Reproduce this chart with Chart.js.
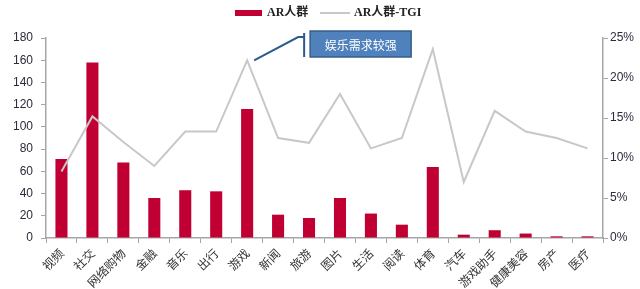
<!DOCTYPE html>
<html>
<head>
<meta charset="utf-8">
<script src="https://cdn.jsdelivr.net/npm/chart.js@4/dist/chart.umd.min.js"></script>
<style>
html,body{margin:0;padding:0;background:#fff;}
#wrap{width:640px;height:289px;position:relative;}
</style>
</head>
<body>
<div id="wrap"><canvas id="c" width="640" height="289"></canvas></div>
<script>
const categories = ['视频','社交','网络购物','金融','音乐','出行','游戏','新闻','旅游','图片','生活','阅读','体育','汽车','游戏助手','健康美容','房产','医疗'];
const arUsers = [71,158,68,36,43,42,116,21,18,36,22,12,64,3,7,4,1.5,1.5];
const arTGI = [8.3,15.2,12.0,9.0,13.3,13.3,22.2,12.5,11.9,18.0,11.2,12.5,23.6,7.0,15.9,13.3,12.5,11.2];
const leftTicks = [0,20,40,60,80,100,120,140,160,180];
const rightTicks = [0,5,10,15,20,25];
const seriesNames = ['AR人群','AR人群-TGI'];
const noteText = '娱乐需求较强';

const tickFont = {family:'"Liberation Sans", Arial, sans-serif', size:12};
const axisColor = '#A6A6A6';
const textColor = '#2B2B3A';

const legendPlugin = {
  id:'customLegend',
  afterDraw(chart){
    const ctx = chart.ctx;
    ctx.save();
    ctx.font = 'bold 12px "Liberation Serif", "Noto Sans CJK SC", serif';
    ctx.textBaseline = 'middle';
    ctx.fillStyle = '#C00032';
    ctx.fillRect(235, 10, 27, 6);
    ctx.fillStyle = '#222';
    ctx.fillText(chart.data.datasets[0].label, 267, 13);
    ctx.strokeStyle = '#C8C8C8';
    ctx.lineWidth = 2;
    ctx.beginPath(); ctx.moveTo(320, 13); ctx.lineTo(350, 13); ctx.stroke();
    ctx.fillStyle = '#222';
    ctx.fillText(chart.data.datasets[1].label, 354, 13);
    ctx.restore();
  }
};

const notePlugin = {
  id:'note',
  afterDatasetsDraw(chart){
    const meta = chart.getDatasetMeta(1);
    const p = meta.data[6];
    const ctx = chart.ctx;
    ctx.save();
    ctx.strokeStyle = '#2C5A8A';
    ctx.lineWidth = 2;
    ctx.beginPath();
    ctx.moveTo(p.x + 7, p.y);
    ctx.lineTo(p.x + 51, 37);
    ctx.lineTo(p.x + 57, 37);
    ctx.stroke();
    ctx.beginPath();
    ctx.moveTo(p.x + 57, 33);
    ctx.lineTo(p.x + 57, 57);
    ctx.stroke();
    const bx = p.x + 63, by = 31, bw = 101, bh = 26;
    ctx.fillStyle = '#4F81BD';
    ctx.fillRect(bx, by, bw, bh);
    ctx.strokeStyle = '#385D8A';
    ctx.lineWidth = 1.5;
    ctx.strokeRect(bx, by, bw, bh);
    ctx.fillStyle = '#FFFFFF';
    ctx.font = '12px "Noto Sans CJK SC", sans-serif';
    ctx.textAlign = 'center';
    ctx.textBaseline = 'middle';
    ctx.fillText(noteText, bx + bw/2, by + bh/2 + 1);
    ctx.restore();
  }
};

new Chart(document.getElementById('c'), {
  data:{
    labels: categories,
    datasets:[
      {type:'bar', label:seriesNames[0], data:arUsers, yAxisID:'y', backgroundColor:'#C00032',
       categoryPercentage:1, barPercentage:0.39, order:2},
      {type:'line', label:seriesNames[1], data:arTGI, yAxisID:'y1', borderColor:'#C8C8C8', borderWidth:2,
       pointRadius:0, tension:0, fill:false, order:1}
    ]
  },
  plugins:[legendPlugin, notePlugin],
  options:{
    responsive:false,
    animation:false,
    layout:{padding:{top:38,left:0,right:0,bottom:0}},
    plugins:{legend:{display:false}, tooltip:{enabled:false}},
    scales:{
      x:{
        grid:{display:true, drawOnChartArea:false, color:axisColor, tickLength:5, offset:true},
        border:{color:axisColor, width:1.5},
        ticks:{font:{family:'"Noto Sans CJK SC", sans-serif', size:12}, color:'#333', maxRotation:45, minRotation:45, autoSkip:false, padding:3},
        afterFit(s){ s.height = 51; }
      },
      y:{
        position:'left', min:0, max:180,
        afterBuildTicks(s){ s.ticks = leftTicks.map(v=>({value:v})); },
        grid:{display:true, drawOnChartArea:false, color:axisColor, tickLength:5},
        border:{color:axisColor, width:1.5},
        ticks:{font:tickFont, color:textColor, padding:8},
        afterFit(s){ s.width = 46; }
      },
      y1:{
        position:'right', min:0, max:25,
        afterBuildTicks(s){ s.ticks = rightTicks.map(v=>({value:v})); },
        grid:{display:true, drawOnChartArea:false, color:axisColor, tickLength:5},
        border:{color:axisColor, width:1.5},
        ticks:{font:tickFont, color:textColor, padding:2, callback:v=>v+'%'},
        afterFit(s){ s.width = 37; }
      }
    }
  }
});
</script>
</body>
</html>
